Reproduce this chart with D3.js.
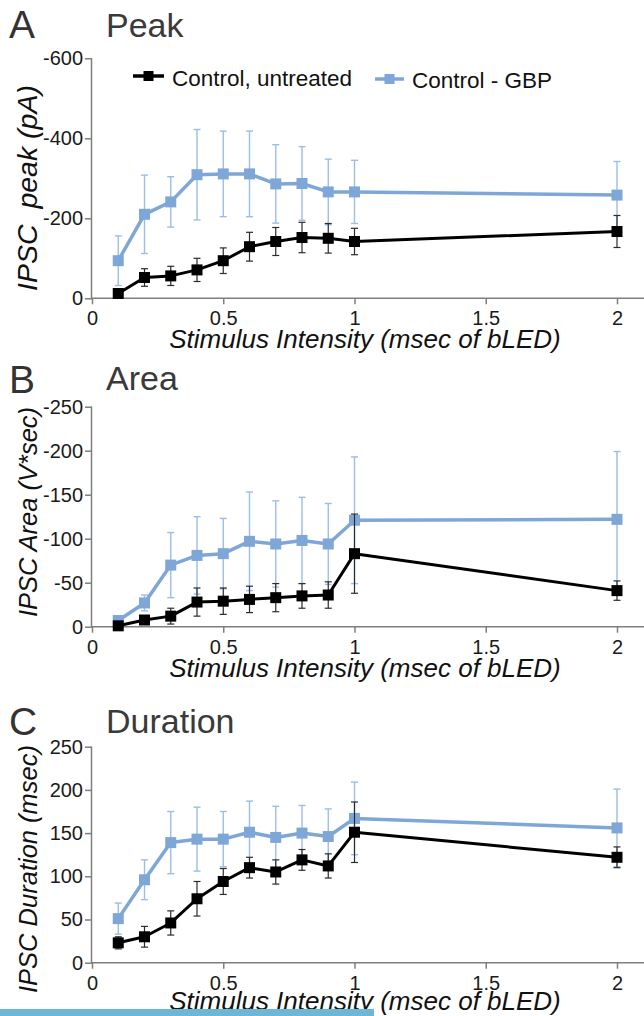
<!DOCTYPE html>
<html>
<head>
<meta charset="utf-8">
<script src="https://cdn.jsdelivr.net/npm/d3@7"></script>
<style>
  body { margin: 0; background: #fff; }
  svg { display: block; font-family: "Liberation Sans", Arial, sans-serif; }
  .tick text { font-size: 20px; fill: #1a1a1a; }
  .axis path, .axis line { stroke: #7f7f7f; stroke-width: 1.5; }
  .ylab { white-space: pre; }
</style>
</head>
<body>
<svg id="chart" width="644" height="1016"></svg>
<script>
// stimulus intensity (msec of bLED)
const intensity = [0.1, 0.2, 0.3, 0.4, 0.5, 0.6, 0.7, 0.8, 0.9, 1, 2]
const xTicks = [0, 0.5, 1, 1.5, 2]
const seriesNames = ['Control, untreated', 'Control - GBP']

// A: IPSC peak (pA)
const peakUntreated = [-12, -52, -56, -71, -94, -129, -142, -152, -150, -142, -167]
const peakUntreatedErr = [6, 22, 24, 29, 32, 36, 35, 38, 37, 33, 40]
const peakGbp = [-94, -210, -241, -309, -311, -311, -286, -287, -266, -266, -258]
const peakGbpErr = [62, 98, 63, 113, 107, 107, 98, 92, 82, 79, 84]
const peakTicks = [0, -200, -400, -600]

// B: IPSC area (V*sec)
const areaUntreated = [-1, -7.6, -12, -28, -29, -31, -33, -35, -36, -83, -41]
const areaUntreatedErr = [1.5, 3, 9, 16, 15, 15, 16, 14, 15, 45, 11]
const areaGbp = [-7, -27, -70, -81, -83, -97, -94, -98, -94, -121, -122]
const areaGbpErr = [3, 9, 37, 44, 40, 56, 49, 49, 46, 72, 77]
const areaTicks = [0, -50, -100, -150, -200, -250]

// C: IPSC duration (msec)
const durUntreated = [23, 30, 46, 74, 94, 110, 105, 119, 112, 151, 122]
const durUntreatedErr = [7, 12, 14, 20, 15, 12, 14, 12, 14, 35, 12]
const durGbp = [51, 96, 139, 143, 143, 151, 145, 150, 146, 167, 156]
const durGbpErr = [18, 23, 36, 37, 32, 36, 36, 32, 32, 42, 45]
const durTicks = [0, 50, 100, 150, 200, 250]

const BLACK = '#000'
const BLUE = '#7ea7d8'
const BLUE_ERR = '#9cbde6'

const svg = d3.select('#chart')
const x = d3.scaleLinear().domain([0, 2]).range([92, 617])

const panels = [
  { letter: 'A', title: 'Peak', letterY: 38, titleY: 37, ylabel: 'IPSC  peak (pA)', ylabelY: 188, ylabelSize: 28.5, xtitleDy: 50,
    domain: [0, -600], range: [298.3, 58.3], ticks: peakTicks,
    a: peakUntreated, aErr: peakUntreatedErr, b: peakGbp, bErr: peakGbpErr, legend: true },
  { letter: 'B', title: 'Area', letterY: 393, titleY: 390, ylabel: 'IPSC Area (V*sec)', ylabelY: 512, ylabelSize: 25.5, xtitleDy: 50,
    domain: [0, -250], range: [626.7, 406.7], ticks: areaTicks,
    a: areaUntreated, aErr: areaUntreatedErr, b: areaGbp, bErr: areaGbpErr },
  { letter: 'C', title: 'Duration', letterY: 735, titleY: 733, ylabel: 'IPSC Duration (msec)', ylabelY: 869, ylabelSize: 25.5, xtitleDy: 47,
    domain: [0, 250], range: [962.7, 746.7], ticks: durTicks,
    a: durUntreated, aErr: durUntreatedErr, b: durGbp, bErr: durGbpErr }
]

function addSeries (g, y, vals, errs, opt) {
  const pts = intensity.map((d, i) => ({ x: d, y: vals[i], e: errs[i] }))
  const sgn = Math.sign(y.domain()[1])
  const eb = g.append('g').attr('stroke', opt.errColor).attr('stroke-width', opt.errWidth)
  pts.forEach(p => {
    const y0 = y(p.y - sgn * p.e)
    const y1 = y(p.y + sgn * p.e)
    const cx = x(p.x)
    eb.append('line').attr('x1', cx).attr('x2', cx).attr('y1', y0).attr('y2', y1)
    eb.append('line').attr('x1', cx - 3.5).attr('x2', cx + 3.5).attr('y1', y0).attr('y2', y0)
    eb.append('line').attr('x1', cx - 3.5).attr('x2', cx + 3.5).attr('y1', y1).attr('y2', y1)
  })
  const line = d3.line().x(d => x(d.x)).y(d => y(d.y))
  g.append('path')
    .attr('d', line(pts))
    .attr('fill', 'none')
    .attr('stroke', opt.color)
    .attr('stroke-width', opt.lineWidth)
    .attr('stroke-linejoin', 'round')
  g.selectAll(null).data(pts).enter().append('rect')
    .attr('x', d => x(d.x) - opt.size / 2)
    .attr('y', d => y(d.y) - opt.size / 2)
    .attr('width', opt.size)
    .attr('height', opt.size)
    .attr('fill', opt.color)
}

panels.forEach(p => {
  const g = svg.append('g')
  const y = d3.scaleLinear().domain(p.domain).range(p.range)
  const base = p.range[0]

  // panel letter and title
  g.append('text').attr('x', 9).attr('y', p.letterY)
    .attr('font-size', 39).attr('fill', '#333').text(p.letter)
  g.append('text').attr('x', 106).attr('y', p.titleY)
    .attr('font-size', 34).attr('fill', '#3a3a3a').text(p.title)

  // axes (plain hyphen for negative ticks)
  const ya = g.append('g').attr('class', 'axis').attr('transform', 'translate(92,0)')
    .call(d3.axisLeft(y).tickValues(p.ticks).tickSize(7).tickPadding(2).tickFormat(d => String(d)))
  ya.select('.domain').attr('d', `M-0.5,${p.range[1]}V${base}`)

  const xa = g.append('g').attr('class', 'axis').attr('transform', `translate(0,${base})`)
    .call(d3.axisBottom(x).tickValues(xTicks).tickSize(6).tickPadding(7).tickFormat(d => d))
  xa.select('.domain').attr('d', 'M91,0H644')

  // axis titles
  g.append('text')
    .attr('class', 'ylab')
    .attr('transform', `translate(37,${p.ylabelY}) rotate(-90)`)
    .attr('text-anchor', 'middle')
    .attr('font-size', p.ylabelSize)
    .attr('font-style', 'italic')
    .attr('fill', '#111')
    .text(p.ylabel)
  g.append('text')
    .attr('x', 365).attr('y', base + p.xtitleDy)
    .attr('text-anchor', 'middle')
    .attr('font-size', 26)
    .attr('font-style', 'italic')
    .attr('fill', '#111')
    .text('Stimulus Intensity (msec of bLED)')

  // data
  addSeries(g, y, p.b, p.bErr, { color: BLUE, errColor: BLUE_ERR, errWidth: 1.4, lineWidth: 3.5, size: 11 })
  addSeries(g, y, p.a, p.aErr, { color: BLACK, errColor: '#2b2b2b', errWidth: 1.2, lineWidth: 3, size: 11 })

  if (p.legend) {
    const items = [
      { name: seriesNames[0], color: BLACK, lx: 133, lw: 31, ty: 86, my: 76 },
      { name: seriesNames[1], color: BLUE, lx: 375, lw: 29, ty: 88, my: 79 }
    ]
    items.forEach(it => {
      g.append('line').attr('x1', it.lx).attr('x2', it.lx + it.lw).attr('y1', it.my).attr('y2', it.my)
        .attr('stroke', it.color).attr('stroke-width', 3.5)
      g.append('rect').attr('x', it.lx + it.lw / 2 - 5).attr('y', it.my - 5).attr('width', 10).attr('height', 10)
        .attr('fill', it.color)
      g.append('text').attr('x', it.lx + it.lw + 8).attr('y', it.ty)
        .attr('font-size', 22.5).attr('fill', '#111').text(it.name)
    })
  }
})

// strip along the bottom edge
svg.append('rect').attr('x', 0).attr('y', 1009).attr('width', 374).attr('height', 7).attr('fill', '#6cb6d6')
</script>
</body>
</html>
